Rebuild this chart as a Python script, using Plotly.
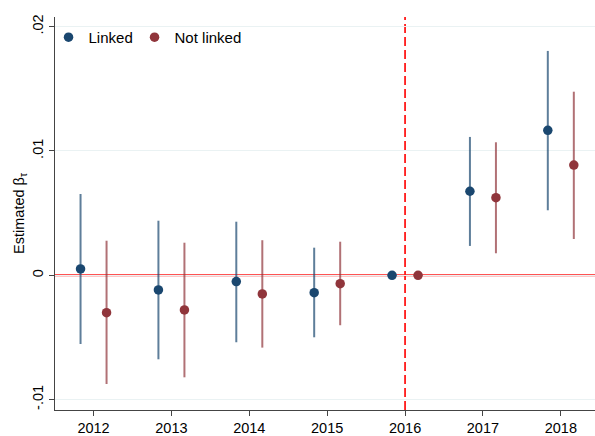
import plotly.graph_objects as go

years = [2012, 2013, 2014, 2015, 2016, 2017, 2018]
linked_est = [0.00051, -0.00118, -0.00051, -0.00140, 0.0, 0.00676, 0.01166]
linked_hi = [0.00654, 0.00439, 0.00431, 0.00222, 0.0, 0.01113, 0.01805]
linked_lo = [-0.00553, -0.00676, -0.00539, -0.00499, 0.0, 0.00236, 0.00523]
notlinked_est = [-0.00301, -0.00279, -0.00150, -0.00068, 0.0, 0.00624, 0.00887]
notlinked_hi = [0.00278, 0.00262, 0.00282, 0.00270, 0.0, 0.01070, 0.01477]
notlinked_lo = [-0.00875, -0.00821, -0.00582, -0.00402, 0.0, 0.00177, 0.00292]
ytick_vals = [-0.01, 0, 0.01, 0.02]
ytick_text = ["-.01", "0", ".01", ".02"]
event_year = 2016
offset = 0.167

NAVY = "#1a476f"
MAROON = "#90353b"
FONT = "Liberation Sans, Arial, sans-serif"

def series(est, hi, lo, shift, name, color, ci_color, legend):
    return go.Scatter(
        x=[y + shift for y in years], y=est, mode="markers", name=name, legend=legend,
        marker=dict(color=color, size=9.5, line=dict(width=0)),
        error_y=dict(type="data", symmetric=False,
                     array=[h - e for h, e in zip(hi, est)],
                     arrayminus=[e - l for e, l in zip(est, lo)],
                     width=0, thickness=2, color=ci_color),
    )

fig = go.Figure()
fig.add_trace(series(linked_est, linked_hi, linked_lo, -offset, "Linked", NAVY,
                     "rgba(26,71,111,0.7)", "legend"))
fig.add_trace(series(notlinked_est, notlinked_hi, notlinked_lo, offset, "Not linked", MAROON,
                     "rgba(144,53,59,0.7)", "legend2"))

fig.add_shape(type="line", xref="paper", yref="y", x0=0, x1=1, y0=0, y1=0,
              line=dict(color="#ff1a1a", width=2), layer="below")
fig.add_shape(type="line", xref="x", yref="paper", x0=event_year, x1=event_year, y0=0, y1=1,
              line=dict(color="#ff1a1a", width=1.8, dash="9px,4px"), layer="below")

legend_common = dict(orientation="h", y=0.99, xanchor="left", yanchor="top",
                     font=dict(size=15), bgcolor="rgba(0,0,0,0)")

fig.update_layout(
    width=595, height=436,
    margin=dict(l=55, r=0, t=17, b=26),
    paper_bgcolor="white", plot_bgcolor="white",
    font=dict(family=FONT, size=14, color="#000000"),
    showlegend=True,
    legend=dict(x=-0.012, **legend_common),
    legend2=dict(x=0.1473, **legend_common),
    xaxis=dict(range=[2011.505, 2018.439], tickvals=years, ticktext=[str(y) for y in years],
               showgrid=False, zeroline=False, showline=True, linecolor="#444444", linewidth=1,
               ticks="outside", ticklen=5, tickcolor="#444444", tickfont=dict(size=14.5)),
    yaxis=dict(range=[-0.01084, 0.02078], tickvals=ytick_vals, ticktext=ytick_text,
               tickangle=-90, showgrid=True, gridcolor="#eaf2f3", gridwidth=1, zeroline=False,
               showline=True, linecolor="#444444", linewidth=1,
               ticks="outside", ticklen=5, tickcolor="#444444", tickfont=dict(size=14.5),
               title=dict(text="Estimated β<sub>τ</sub>", font=dict(size=14.5), standoff=2)),
)

fig.write_html("out.html", config={"displayModeBar": False},
               post_script="document.body.style.margin='0';document.body.style.padding='0';")
